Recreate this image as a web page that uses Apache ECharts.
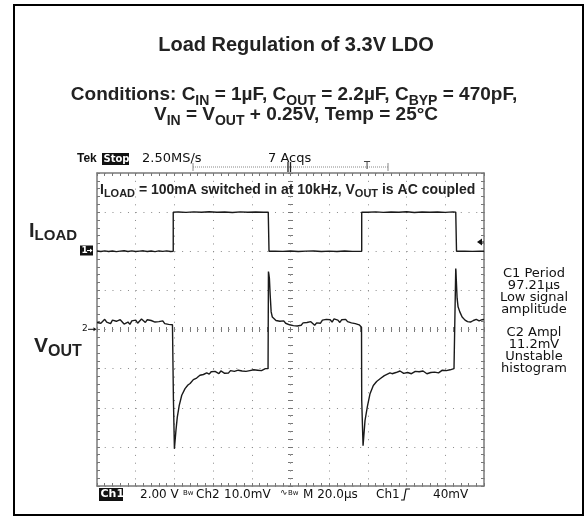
<!DOCTYPE html>
<html><head><meta charset="utf-8">
<script src="https://cdn.jsdelivr.net/npm/echarts@6/dist/echarts.min.js"></script>
<style>html,body{margin:0;padding:0;background:#fff}#c{width:588px;height:517px}</style>
</head><body><div id="c"></div>
<script>
// ---- scope settings ----
const timePerDiv = 20;   // µs / div  (M 20.0µs)
const ch2PerDiv = 10;    // mV / div  (Ch2 10.0mV)
const ch1PerDiv = 100;   // mA / div  (I_LOAD pulse = 1 div)
const ch1OffsetDiv = 2;  // Ch1 ground marker, divisions above centre
const divX = 10, divY = 8;

// ---- I_LOAD (Ch1), time in µs, current in mA ----
const iTime = [0,2,4,6,8,10,12,14,16,18,20,22,24,26,28,30,32,34,36,38,39.4,
  39.4,42,46,50,54,58,62,66,70,74,78,82,86,88.5,
  88.9,92,96,100,104,108,112,116,120,124,128,132,136.8,
  136.8,140,144,148,152,156,160,164,168,172,176,180,184,185.4,
  185.8,190,194,198,200];
const iLoad = [0.5,-0.8,1.0,-0.5,0.8,-1.0,0.3,1.2,-0.6,0.9,-0.8,0.4,1.1,-0.7,0.6,-1.1,0.8,-0.3,1.0,-0.6,0,
  100,100.5,99.4,100.6,99.6,100.8,99.5,100.3,99.2,100.7,99.6,100.4,99.8,100,
  0,0.3,-0.4,0.5,-0.6,0.2,0.7,-0.5,0.4,-0.8,0.6,-0.3,0,
  100,99.5,100.6,99.3,100.4,99.7,100.8,99.2,100.5,99.6,100.3,99.4,100.6,100,
  0,0.2,-0.3,0.2,0];

// ---- V_OUT (Ch2, AC coupled), time in µs, voltage in mV ----
const vTime = [0,1,2,3,4,5,6,7,8,9,10,11,12,13,14,15,16,17,18,19,20,21,22,23,24,25,26,27,28,29,30,31,32,33,34,35,36,37,38,39,39.4,
  39.5,40.0,40.3,40.8,41.5,42.5,43.8,45.5,47,48.1,49.8,51.5,53.2,55,56.7,
  58,59,60,61,62,63,64,65,66,67,68,69,70,71,72,73,74,75,76,77,78,79,80,81,82,83,84,85,86,87,88,88.4,
  88.6,88.8,89.1,89.5,90,90.6,91.5,92.5,93.5,94.5,95.5,96.5,97.5,98.5,99.5,100.5,101.5,102.5,103.5,104.5,105.5,106.5,107.5,
  108.5,109.5,110.5,111.5,112.5,113.5,114.5,115.5,116.5,117.5,118.5,119.5,120.5,121.5,122.5,123.5,124.5,125.5,126.5,127.5,
  128.5,129.5,130.5,131.5,132.5,133.5,134.5,135.5,136.3,136.7,
  136.8,137.5,138,138.5,139.7,141.1,142.8,144.5,146.3,148.5,151.4,
  152.5,153.5,154.5,155.5,156.6,157.5,158.5,159.5,160.5,161.5,162.5,163.5,164.5,165.5,166.5,167.5,168.5,169.5,170.5,
  171.5,172.5,173.5,174.5,175.5,176.5,177.5,178.5,179.5,180.5,181.5,182.5,183.5,184.5,185.2,
  185.4,185.5,185.7,186.1,186.6,187.5,188.7,190.2,191.5,193,194.5,196,197.5,199,200];
const vOut = [1.8,2.3,1.6,2.0,2.6,1.9,2.2,1.5,2.4,2.8,2.1,1.7,2.5,2.0,1.4,1.1,1.9,1.3,2.2,1.8,2.4,1.6,2.0,2.7,2.2,1.8,2.5,2.9,2.3,2.6,1.9,2.4,2.0,1.7,2.2,1.5,1.9,1.3,1.6,1.2,1.0,
  -18,-30.5,-30.1,-25.8,-22.4,-19.4,-16.8,-15.1,-14.2,-13.8,-12.8,-12.4,-11.7,-11.5,-11.1,
  -11.4,-10.8,-11.2,-10.7,-11.0,-11.3,-10.6,-10.9,-11.2,-10.8,-11.1,-10.5,-10.9,-10.7,-11.0,-10.4,-10.8,-10.6,-11.1,-10.7,-10.9,-10.5,-10.8,-10.3,-10.6,-10.4,-10.1,-10.5,-10.2,-10.0,-9.8,-10.0,
  14.8,14.2,13.0,8.8,4.5,3.2,2.8,2.3,2.7,2.1,2.6,2.2,1.6,1.9,1.2,1.6,1.0,1.5,0.9,1.4,1.1,1.7,1.2,
  1.8,1.3,2.0,1.5,1.1,1.7,2.2,1.6,2.4,2.0,2.6,2.1,2.5,1.9,2.7,2.2,2.4,1.8,2.5,2.1,
  2.6,2.0,2.3,1.7,2.1,1.5,1.8,1.2,0.8,0.6,
  -18,-29.7,-26.5,-23.3,-19.8,-16.4,-14.3,-13.3,-12.6,-11.8,-11.1,
  -11.3,-10.8,-11.0,-10.5,-10.6,-10.9,-11.2,-10.7,-11.0,-10.6,-11.3,-11.0,-10.7,-11.1,-10.8,-11.2,-10.6,-10.9,-11.3,
  -10.8,-11.0,-10.5,-10.9,-10.6,-11.1,-10.7,-10.4,-10.8,-10.5,-10.9,-10.3,-10.4,-10.0,-9.9,
  15.6,15.0,12.5,8.0,5.8,4.5,3.2,2.4,2.0,1.9,2.3,2.6,2.2,2.5,2.6];

// ---- annotation texts ----
const titleText = 'Load Regulation of 3.3V LDO';
const measure1 = ['C1 Period', '97.21\u00b5s', 'Low signal', 'amplitude'];
const measure2 = ['C2 Ampl', '11.2mV', 'Unstable', 'histogram'];

const GRID = {left: 97, top: 173, width: 387, height: 313};
const gridCol = '#8a8a8a', tickCol = '#777';
const HB = 'Liberation Sans, Arial, Helvetica, sans-serif';
const TK = 'DejaVu Sans, Noto Sans, sans-serif';

function xAx(pos, offset, inside, extra) {
  return Object.assign({
    type: 'value', min: 0, max: timePerDiv * divX, interval: timePerDiv, position: pos, offset: offset,
    axisLine: {show: false, onZero: false},
    axisTick: {show: true, inside: inside, length: 3, lineStyle: {color: tickCol, width: 1}},
    minorTick: {show: true, splitNumber: 5, length: 3, lineStyle: {color: tickCol, width: 1}},
    axisLabel: {show: false}, splitLine: {show: false}
  }, extra || {});
}
function yAx(pos, offset, inside, extra) {
  return Object.assign({
    type: 'value', min: -ch2PerDiv * divY / 2, max: ch2PerDiv * divY / 2, interval: ch2PerDiv, position: pos, offset: offset,
    axisLine: {show: false, onZero: false},
    axisTick: {show: true, inside: inside, length: 3, lineStyle: {color: tickCol, width: 1}},
    minorTick: {show: true, splitNumber: 5, length: 3, lineStyle: {color: tickCol, width: 1}},
    axisLabel: {show: false}, splitLine: {show: false}
  }, extra || {});
}
const border = {show: true, onZero: false, lineStyle: {color: '#7a7a7a', width: 1.5}};
const cTick = (inside) => ({axisTick: {show: true, inside: inside, length: 2.5, lineStyle: {color: tickCol}},
  minorTick: {show: true, splitNumber: 5, length: 2.5, lineStyle: {color: tickCol}}});

const chart = echarts.init(document.getElementById('c'), null, {renderer: 'canvas'});

const els = [];
function T(x, y, text, o) {
  els.push({type: 'text', z: 100, style: Object.assign({x: x, y: y, text: text, fill: '#111', font: '13px ' + TK, align: 'left', verticalAlign: 'middle'}, o || {})});
}
function L(x1, y1, x2, y2, stroke, w, dash) {
  els.push({type: 'line', z: 100, shape: {x1: x1, y1: y1, x2: x2, y2: y2}, style: {stroke: stroke, lineWidth: w, lineDash: dash || null}});
}
// rich styles: main & subscript (subscript lowered with top padding)
function richPair(H, h, drop) {
  const p = 0.85 * (H - h) + drop;
  return {
    b: {fontSize: H, fontWeight: 'bold', fontFamily: HB, fill: '#222', lineHeight: H, verticalAlign: 'top'},
    s: {fontSize: h, fontWeight: 'bold', fontFamily: HB, fill: '#222', lineHeight: h, verticalAlign: 'top', padding: [p, 0, 0, 0]}
  };
}

// frame
els.push({type: 'rect', z: 100, shape: {x: 14, y: 5, width: 569, height: 510}, style: {fill: 'none', stroke: '#000', lineWidth: 2}});
// title
T(296, 45, titleText, {font: 'bold 20px ' + HB, align: 'center', fill: '#222'});
T(294, 95, '{b|Conditions: C}{s|IN}{b| = 1\u00b5F, C}{s|OUT}{b| = 2.2\u00b5F, C}{s|BYP}{b| = 470pF,}',
  {align: 'center', rich: richPair(19, 14, 4)});
T(296, 115, '{b|V}{s|IN}{b| = V}{s|OUT}{b| + 0.25V, Temp = 25\u00b0C}',
  {align: 'center', rich: richPair(19, 14, 4)});

// Tek header
T(77, 159, 'Tek', {font: 'bold 12px ' + HB});
els.push({type: 'rect', z: 100, shape: {x: 102, y: 153, width: 27, height: 12}, style: {fill: '#111'}});
T(103.5, 159, 'Stop:', {font: 'bold 10px ' + TK, fill: '#fff'});
T(142, 159, '2.50MS/s', {font: '13px ' + TK});
T(268, 159, '7 Acqs', {font: '13px ' + TK});
// record bar
L(193, 167, 388, 167, '#888', 1, [1, 1]);
L(193, 163, 193, 171, '#888', 1);
L(388, 163, 388, 171, '#888', 1);
L(288, 162, 288, 172, '#222', 1.3);
L(290.5, 162, 290.5, 172, '#222', 1.3);
T(367, 166, 'T', {font: '10px ' + TK, align: 'center', fill: '#444'});

// note inside plot
T(100, 190, '{b|I}{s|LOAD}{b| = 100mA switched in at 10kHz, V}{s|OUT}{b| is AC coupled}',
  {rich: richPair(14, 11, 2.5)});

// channel labels
T(29, 231, '{b|I}{s|LOAD}', {rich: richPair(20, 15, 3)});
T(34, 346, '{b|V}{s|OUT}', {rich: richPair(21, 16, 3.5)});
// channel 1 marker (white on black)
els.push({type: 'rect', z: 100, shape: {x: 80, y: 245.5, width: 13, height: 10}, style: {fill: '#111'}});
T(81.5, 250.8, '1', {font: 'bold 9px ' + TK, fill: '#fff'});
L(87, 250.5, 92, 250.5, '#fff', 1);
els.push({type: 'polygon', z: 101, shape: {points: [[92.5, 250.5], [90, 248.5], [90, 252.5]]}, style: {fill: '#fff'}});
// channel 2 marker
T(82, 329, '2', {font: '9px ' + TK});
L(88, 329.3, 95, 329.3, '#111', 1);
els.push({type: 'polygon', z: 101, shape: {points: [[96.5, 329.3], [93.5, 327.3], [93.5, 331.3]]}, style: {fill: '#111'}});
// trigger level marker
els.push({type: 'polygon', z: 100, shape: {points: [[477, 242], [482, 238.5], [482, 245.5]]}, style: {fill: '#111'}});
L(482, 242, 484, 242, '#111', 1);

// measurements
measure1.forEach((s, i) => T(534, 274 + i * 12, s, {align: 'center'}));
measure2.forEach((s, i) => T(534, 333 + i * 12, s, {align: 'center'}));

// bottom status line
const BF = '12px ' + TK;
els.push({type: 'rect', z: 100, shape: {x: 99, y: 488, width: 24, height: 13}, style: {fill: '#111'}});
T(100.5, 494.5, 'Ch1', {font: 'bold 11px ' + TK, fill: '#fff'});
T(140, 494.5, '2.00 V', {font: BF});
T(183, 493, 'Bw', {font: '7px ' + TK});
T(196, 494.5, 'Ch2', {font: BF});
T(224, 494.5, '10.0mV', {font: BF});
T(280, 493, '\u223f', {font: '9px ' + TK});
T(288, 493, 'Bw', {font: '7px ' + TK});
T(303, 494.5, 'M 20.0\u00b5s', {font: BF});
T(376, 494.5, 'Ch1', {font: BF});
els.push({type: 'polyline', z: 100, shape: {points: [[401, 500], [404, 500], [406, 489], [410, 489]]}, style: {stroke: '#111', lineWidth: 1.2, fill: 'none'}});
T(433, 494.5, '40mV', {font: BF});

const dotX = {show: true, lineStyle: {color: gridCol, width: 1, type: [1, 6.83]}};
const dotY = {show: true, lineStyle: {color: gridCol, width: 1, type: [1, 6.74]}};

const option = {
  animation: false,
  backgroundColor: '#fff',
  grid: Object.assign({containLabel: false}, GRID),
  xAxis: [
    xAx('bottom', 0, true, {axisLine: border, splitLine: dotX}),
    xAx('top', 0, true, {axisLine: border}),
    xAx('bottom', -GRID.height / 2, true, cTick(true)),
    xAx('bottom', -GRID.height / 2, false, cTick(false))
  ],
  yAxis: [
    yAx('left', 0, true, {axisLine: border, splitLine: dotY}),
    {type: 'value', show: false, min: -ch1PerDiv * (divY / 2 + ch1OffsetDiv), max: ch1PerDiv * (divY / 2 - ch1OffsetDiv), interval: ch1PerDiv, splitLine: {show: false}},
    yAx('right', 0, true, {axisLine: border}),
    yAx('left', -GRID.width / 2, true, cTick(true)),
    yAx('left', -GRID.width / 2, false, cTick(false))
  ],
  series: [
    {type: 'line', name: 'I_LOAD', xAxisIndex: 0, yAxisIndex: 1, data: iTime.map((t, i) => [t, iLoad[i]]),
      showSymbol: false, smooth: false, lineStyle: {color: '#1a1a1a', width: 1.4}, z: 5},
    {type: 'line', name: 'V_OUT', xAxisIndex: 0, yAxisIndex: 0, data: vTime.map((t, i) => [t, vOut[i]]),
      showSymbol: false, smooth: false, lineStyle: {color: '#1a1a1a', width: 1.4}, z: 5}
  ],
  graphic: {elements: els}
};
chart.setOption(option);
</script></body></html>
